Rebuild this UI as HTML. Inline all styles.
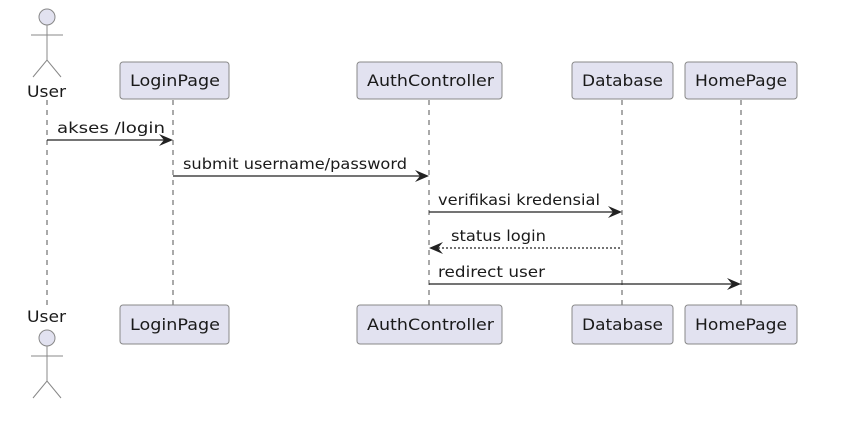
<!DOCTYPE html>
<html><head><style>body{margin:0;background:#fff}</style></head><body>
<svg width="849" height="441" xmlns="http://www.w3.org/2000/svg" font-family="DejaVu Sans, Liberation Sans, sans-serif" font-size="15">
<rect width="849" height="441" fill="#fff"/>
<g stroke="#555" stroke-width="1" stroke-dasharray="5,5">
<line x1="47" y1="100" x2="47" y2="305"/>
<line x1="173" y1="100" x2="173" y2="305"/>
<line x1="429" y1="100" x2="429" y2="305"/>
<line x1="622" y1="100" x2="622" y2="305"/>
<line x1="741" y1="100" x2="741" y2="305"/>
</g>
<g fill="#E2E2F0" stroke="#888" stroke-width="1">
<rect x="120" y="62" width="109" height="37" rx="3"/>
<rect x="357" y="62" width="145" height="37" rx="3"/>
<rect x="572" y="62" width="101" height="37" rx="3"/>
<rect x="685" y="62" width="112" height="37" rx="3"/>
<rect x="120" y="305" width="109" height="39" rx="3"/>
<rect x="357" y="305" width="145" height="39" rx="3"/>
<rect x="572" y="305" width="101" height="39" rx="3"/>
<rect x="685" y="305" width="112" height="39" rx="3"/>
<circle cx="47" cy="17" r="8"/>
<circle cx="47" cy="338" r="8"/>
</g>
<g stroke="#888" stroke-width="1" fill="none">
<path d="M47 25V60M31 35H63M33 77L47 60L61 77"/>
<path d="M47 346V381M31 356H63M33 398L47 381L61 398"/>
</g>
<g fill="#1a1a1a" font-size="16">
<text x="27" y="97" textLength="39" lengthAdjust="spacingAndGlyphs">User</text>
<text x="27" y="322" textLength="39" lengthAdjust="spacingAndGlyphs">User</text>
<text x="130" y="86" textLength="90" lengthAdjust="spacingAndGlyphs">LoginPage</text>
<text x="367" y="86" textLength="127" lengthAdjust="spacingAndGlyphs">AuthController</text>
<text x="582" y="86" textLength="81" lengthAdjust="spacingAndGlyphs">Database</text>
<text x="695" y="86" textLength="92" lengthAdjust="spacingAndGlyphs">HomePage</text>
<text x="130" y="330" textLength="90" lengthAdjust="spacingAndGlyphs">LoginPage</text>
<text x="367" y="330" textLength="127" lengthAdjust="spacingAndGlyphs">AuthController</text>
<text x="582" y="330" textLength="81" lengthAdjust="spacingAndGlyphs">Database</text>
<text x="695" y="330" textLength="92" lengthAdjust="spacingAndGlyphs">HomePage</text>
</g>
<g stroke="#222" stroke-width="1.3" fill="none">
<line x1="47" y1="140" x2="168" y2="140"/>
<line x1="173" y1="176" x2="424" y2="176"/>
<line x1="429" y1="212" x2="617" y2="212"/>
<line x1="434" y1="248" x2="622" y2="248" stroke-dasharray="2,2"/>
<line x1="429" y1="284" x2="736" y2="284"/>
</g>
<g fill="#222">
<path d="M173 140L159 134L164 140L159 146Z"/>
<path d="M429 176L415 170L420 176L415 182Z"/>
<path d="M622 212L608 206L613 212L608 218Z"/>
<path d="M429 248L443 242L438 248L443 254Z"/>
<path d="M741 284L727 278L732 284L727 290Z"/>
</g>
<g fill="#1a1a1a" font-size="15">
<text x="57" y="133" textLength="108" lengthAdjust="spacingAndGlyphs">akses /login</text>
<text x="183" y="169" textLength="224" lengthAdjust="spacingAndGlyphs">submit username/password</text>
<text x="438" y="205" textLength="162" lengthAdjust="spacingAndGlyphs">verifikasi kredensial</text>
<text x="451" y="241" textLength="95" lengthAdjust="spacingAndGlyphs">status login</text>
<text x="438" y="277" textLength="107" lengthAdjust="spacingAndGlyphs">redirect user</text>
</g>
</svg>
</body></html>
